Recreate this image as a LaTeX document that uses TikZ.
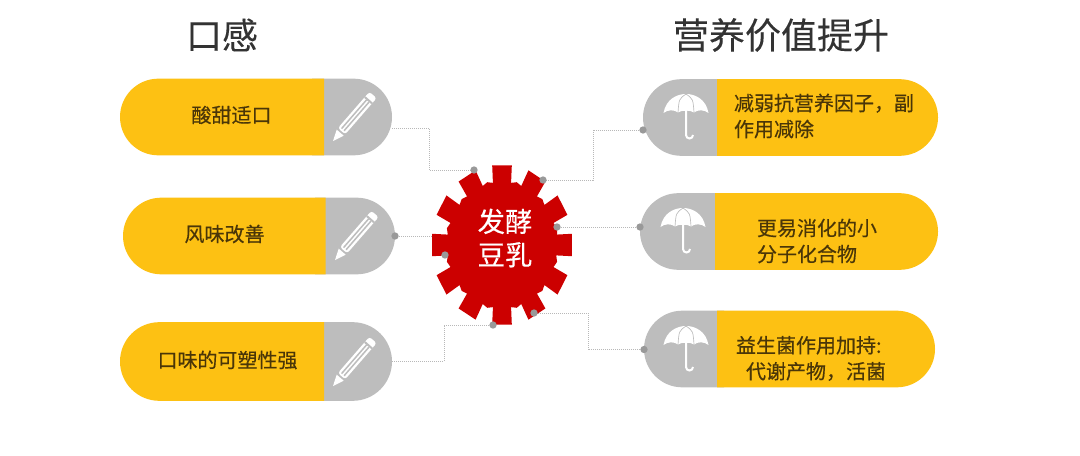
\documentclass[tikz,border=0pt]{standalone}
\usepackage{fontspec}
\setmainfont{Noto Sans CJK SC}
\newfontfamily\boldish[FakeBold=0.4]{Noto Sans CJK SC}
\newfontfamily\titlefont[FakeBold=0.15]{Noto Sans CJK SC}
\usepackage{xcolor}
\usetikzlibrary{positioning, shapes.misc}
\definecolor{pillyellow}{HTML}{FDC113}
\definecolor{pillgray}{HTML}{BDBDBD}
\definecolor{gearred}{HTML}{CC0000}
\definecolor{pilltext}{HTML}{4A3608}

\begin{document}
\begin{tikzpicture}[
    x=0.75pt, y=-0.75pt,
    title/.style={font=\titlefont\fontsize{27}{30}\selectfont, text=black!80},
    halfleft/.style={rounded rectangle, rounded rectangle right arc=none, anchor=west, inner sep=0pt, outer sep=0pt, fill=pillyellow, minimum height=57.5pt},
    capright/.style={rounded rectangle, rounded rectangle left arc=none, anchor=east, inner sep=0pt, outer sep=0pt, fill=pillgray, minimum height=57.5pt, minimum width=60pt},
    capleft/.style={rounded rectangle, rounded rectangle right arc=none, anchor=west, inner sep=0pt, outer sep=0pt, fill=pillgray, minimum height=57.5pt, minimum width=60pt},
    halfright/.style={rounded rectangle, rounded rectangle left arc=none, anchor=east, inner sep=0pt, outer sep=0pt, fill=pillyellow, minimum height=57.5pt},
    pilllabel/.style={font=\boldish\fontsize{15}{19.5}\selectfont, text=pilltext, align=left, inner sep=0pt},
    geartext/.style={font=\boldish\fontsize{20.5}{25}\selectfont, text=white, align=center, inner sep=0pt},
    joint/.style={circle, fill=black!40, inner sep=0pt, minimum size=5.5pt},
    link/.style={densely dotted, line width=0.5pt, black!28},
    pen/.pic={
        \fill[white] (0,0) -- (11,-4.6) -- (11,4.6) -- cycle;
        \fill[white, rounded corners=2pt] (13,-4.8) rectangle (61,4.8);
        \fill[pillgray] (15,-2.4) rectangle (53,-0.9);
        \fill[pillgray] (15,0.9) rectangle (53,2.4);
        \fill[pillgray] (53,-4.8) rectangle (55,4.8);
    },
    umbrella/.pic={
        \fill[white] (-22.5,19) .. controls (-20,5) and (-9,0) .. (0,0) .. controls (9,0) and (20,5) .. (22.5,19)
            .. controls (18,15.5) and (12,15.5) .. (8,18.5) .. controls (5,16) and (-5,16) .. (-8,18.5)
            .. controls (-12,15.5) and (-18,15.5) .. (-22.5,19) -- cycle;
        \draw[pillgray, line width=0.5pt] (0,0) .. controls (-7,5) .. (-8,18.5);
        \draw[pillgray, line width=0.5pt] (0,0) .. controls (7,5) .. (8,18.5);
        \draw[white, line width=1.5pt] (0,15) -- (0,41) arc[start angle=0, end angle=-180, radius=-3.5];
    }
]
\useasboundingbox (0,0) rectangle (1080,456);

% Titles
\node[title] (titleleft) at (222,35) {口感};
\node[title] (titleright) at (781,35) {营养价值提升};

% Left pills
\node[capright] (g1) at (392,117) {};
\node[halfleft, minimum width=153pt] (y1) at (120,117) {};
\node[capright] (g2) at (395,236) {};
\node[halfleft, minimum width=152pt] (y2) at (123,236) {};
\node[capright, minimum height=59pt] (g3) at (392,361.5) {};
\node[halfleft, minimum width=153pt, minimum height=59pt] (y3) at (120,361.5) {};

% Right pills
\node[capleft] (g4) at (643,117.5) {};
\node[halfright, minimum width=165.75pt] (y4) at (938,117.5) {};
\node[capleft] (g5) at (640,231.5) {};
\node[halfright, minimum width=167.25pt] (y5) at (938,231.5) {};
\node[capleft] (g6) at (644,349) {};
\node[halfright, minimum width=163.5pt] (y6) at (935,349) {};

% Pill labels
\node[pilllabel] (t1) at (231.5,115) {酸甜适口};
\node[pilllabel] (t2) at (224.5,234) {风味改善};
\node[pilllabel] (t3) at (227.5,360) {口味的可塑性强};
\node[pilllabel] (t4) at (824,116) {减弱抗营养因子，副\\作用减除};
\node[pilllabel] (t5) at (817,241) {更易消化的小\\分子化合物};
\node[pilllabel] (t6) at (811,358.5) {益生菌作用加持:\\\hspace*{7.5pt}代谢产物，活菌};

% Icons
\pic[rotate=49] at (333,141) {pen};
\pic[rotate=49] at (335,260) {pen};
\pic[rotate=49] at (333,386) {pen};
\pic at (686,94) {umbrella};
\pic at (683,208) {umbrella};
\pic at (686,326) {umbrella};

% Joints on the pills and the gear
\coordinate (p1) at (392,128);
\node[joint] (p2) at (395,236) {};
\coordinate (p3) at (392,361);
\node[joint] (p4) at (643,130) {};
\node[joint] (p5) at (640,227) {};
\node[joint] (p6) at (644,349.5) {};
\coordinate (c1) at (474,170);
\coordinate (c2) at (445,255);
\coordinate (c3) at (493,325);
\coordinate (c4) at (543,180);
\coordinate (c5) at (557,227);
\coordinate (c6) at (534,313);

% Connectors
\draw[link] (p1) -- ++(37,0) |- (c1);
\draw[link] (p2) -- ++(45,0) |- (c2);
\draw[link] (p3) -- ++(52,0) |- (c3);
\draw[link] (p4) -- ++(-50,0) |- (c4);
\draw[link] (p5) -- (c5);
\draw[link] (p6) -- ++(-56,0) |- (c6);

% Gear
\fill[gearred] (557,245)
    \foreach \a in {0,30,...,330} {
        -- ({502+55*cos(\a-9.5)},{245+63*sin(\a-9.5)})
        -- ({502+70.5*cos(\a-8)},{245+80.5*sin(\a-8)})
        -- ({502+70.5*cos(\a+8)},{245+80.5*sin(\a+8)})
        -- ({502+55*cos(\a+9.5)},{245+63*sin(\a+9.5)})
        -- ({502+57*cos(\a+15)},{245+65*sin(\a+15)})
    } -- cycle;
\node[geartext] (geartitle) at (505,238) {发酵\\豆乳};

% Joints on the gear
\foreach \c in {c1,c2,c3,c4,c5,c6} {
    \node[joint] at (\c) {};
}
\end{tikzpicture}
\end{document}
